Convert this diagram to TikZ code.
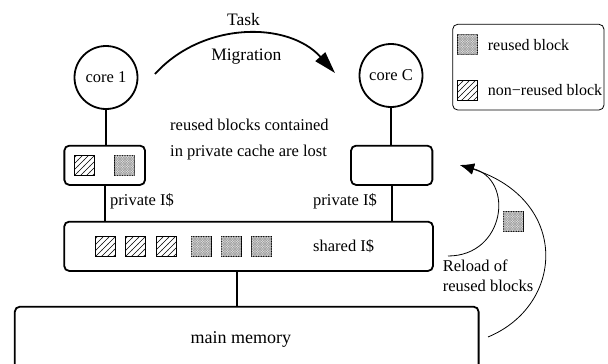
\documentclass[tikz,border=0pt]{standalone}
\usepackage{fontspec}
\setmainfont{Liberation Serif}
\usetikzlibrary{arrows.meta,patterns}
\pgfdeclarepatternformonly{myhatch}{\pgfqpoint{-1pt}{-1pt}}{\pgfqpoint{7pt}{7pt}}{\pgfqpoint{6pt}{6pt}}{%
  \pgfsetlinewidth{0.5pt}%
  \pgfpathmoveto{\pgfqpoint{-0.1pt}{-0.1pt}}%
  \pgfpathlineto{\pgfqpoint{6.1pt}{6.1pt}}%
  \pgfusepath{stroke}}
\pgfdeclarepatternformonly{mycross}{\pgfqpoint{-1pt}{-1pt}}{\pgfqpoint{3.5pt}{3.5pt}}{\pgfqpoint{2.5pt}{2.5pt}}{%
  \pgfsetlinewidth{0.4pt}%
  \pgfpathmoveto{\pgfqpoint{-0.1pt}{-0.1pt}}%
  \pgfpathlineto{\pgfqpoint{2.6pt}{2.6pt}}%
  \pgfpathmoveto{\pgfqpoint{-0.1pt}{2.6pt}}%
  \pgfpathlineto{\pgfqpoint{2.6pt}{-0.1pt}}%
  \pgfusepath{stroke}}
\begin{document}
\begin{tikzpicture}[x=1pt,y=-1pt,
  font=\fontsize{16.5}{19}\selectfont,
  thickline/.style={line width=1.8pt},
  corenode/.style={circle,draw,line width=1.8pt,minimum size=63pt,inner sep=0pt},
  cachebox/.style={draw,line width=1.8pt,rounded corners=5pt,inner sep=0pt},
  blk/.style={draw,line width=0.6pt,minimum size=20pt,inner sep=0pt},
  nonreused/.style={blk,pattern=myhatch},
  reused/.style={blk,fill=gray!22,postaction={pattern=mycross,pattern color=gray!75}},
  txt/.style={inner sep=0pt,anchor=base west},
  ctxt/.style={inner sep=0pt,anchor=base},
  bigtxt/.style={font=\fontsize{17.5}{20}\selectfont},
  reload/.style={line width=0.8pt,-{Latex[length=14pt,width=11pt]}},
]
\useasboundingbox (0,0) rectangle (608,364);
\clip (0,0) rectangle (608,364);

% cores
\node[corenode] (c1) at (106,77.5) {core 1};
\node[corenode] (cC) at (391,75.5) {core C};

% caches
\node[cachebox,minimum width=80.7pt,minimum height=39.3pt] (p1) at (104.7,165.3) {};
\node[cachebox,minimum width=81.3pt,minimum height=39.3pt] (pC) at (391.7,165.3) {};
\node[cachebox,minimum width=368.8pt,minimum height=49.3pt] (sh) at (248.6,246.3) {};
\node[cachebox,minimum width=463.8pt,minimum height=72pt] (mm) at (246.7,342.7) {};

% connectors
\draw[thickline] (c1.south) -- (c1.south |- p1.north);
\draw[thickline] (p1.south) -- (p1.south |- sh.north);
\draw[thickline] (cC.south) -- (cC.south |- pC.north);
\draw[thickline] (pC.south) -- (pC.south |- sh.north);
\coordinate (shm) at (236.6,0);
\draw[thickline] (sh.south -| shm) -- (mm.north -| shm);

% blocks in private cache of core 1
\node[nonreused] (b1) at (84.5,165.7) {};
\node[reused] (b2) at (124.7,165.7) {};

% blocks in shared cache
\node[nonreused] (s1) at (105,246.5) {};
\node[nonreused] (s2) at (135.5,246.5) {};
\node[nonreused] (s3) at (166,246.5) {};
\node[reused] (s4) at (201,246.5) {};
\node[reused] (s5) at (231,246.5) {};
\node[reused] (s6) at (261.5,246.5) {};

% floating reloaded block
\node[reused] (fb) at (513,221) {};

% legend
\node[draw,line width=0.8pt,rounded corners=5pt,minimum width=151.3pt,minimum height=85.7pt,inner sep=0pt] (lg) at (528.35,67.15) {};
\node[reused] (lb1) at (467.7,44.3) {};
\node[nonreused] (lb2) at (467.7,90) {};
\node[txt,font=\fontsize{16}{19}\selectfont] (lt1) at (487.7,50.7) {reused block};
\node[txt,font=\fontsize{16}{19}\selectfont] (lt2) at (487.7,95.7) {non−reused block};

% texts
\node[ctxt,bigtxt] (tk) at (243.5,25) {Task};
\node[ctxt,bigtxt] (mg) at (246.3,60) {Migration};
\node[txt] (lost1) at (170,130.7) {reused blocks contained};
\node[txt] (lost2) at (170,156.2) {in private cache are lost};
\node[txt] (pl1) at (110,205) {private I\$};
\node[txt] (pl2) at (313,205) {private I\$};
\node[txt] (shl) at (313,251.3) {shared I\$};
\node[ctxt,font=\fontsize{18}{21}\selectfont] (mml) at (240.9,343) {main memory};
\node[txt] (rl1) at (442.7,271.7) {Reload of};
\node[txt] (rl2) at (442.7,291.7) {reused blocks};

% migration arrow
\coordinate (ms) at (155,74);
\coordinate (me) at (335,73);
\draw[thickline,-{Triangle[length=22pt,width=13pt]}] (ms) .. controls (202.2,21.6) and (287.8,20.6) .. (me);

% reload arrows
\coordinate (r1) at (448,256);
\coordinate (r2) at (488,337);
\coordinate (rt) at (460,165);
\draw[reload] (r1) .. controls (505,256) and (515,180) .. (rt);
\draw[reload] (r2) .. controls (565,305) and (570,200) .. (rt);
\end{tikzpicture}
\end{document}
